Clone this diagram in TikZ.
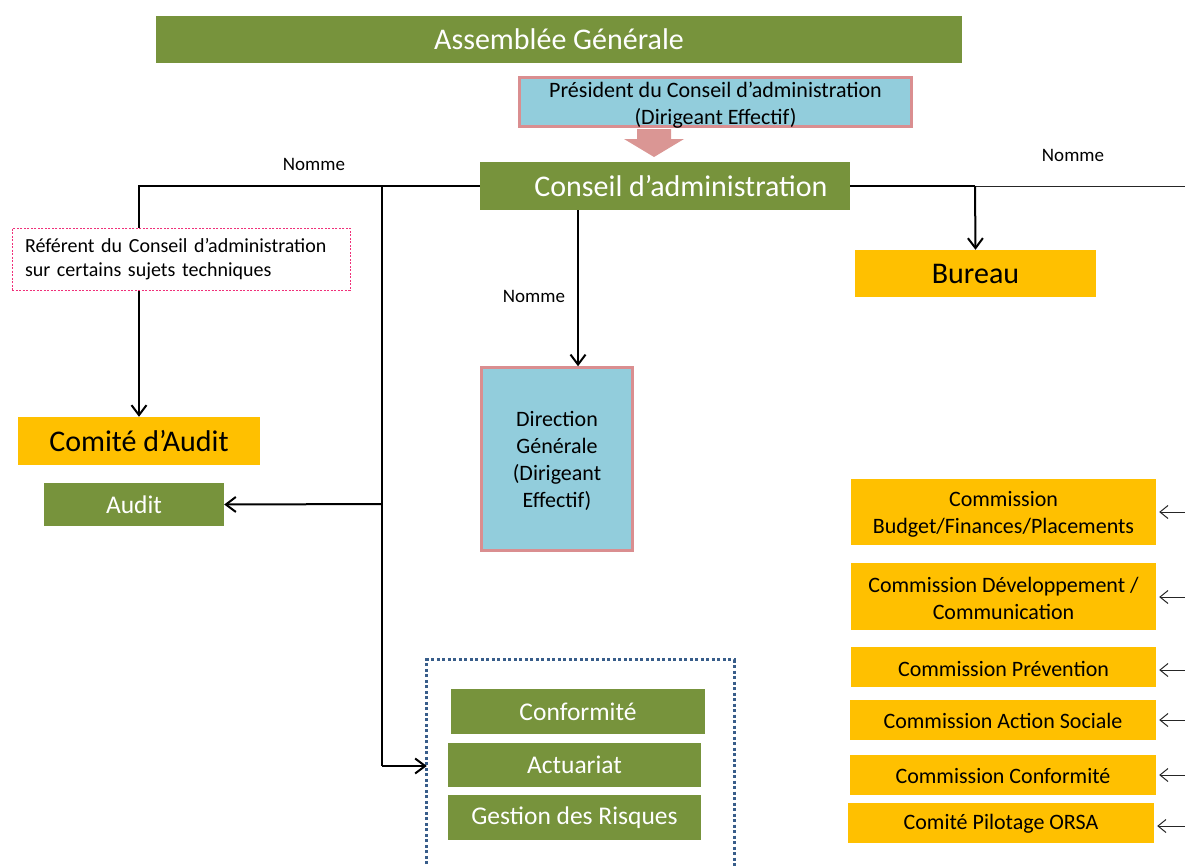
\documentclass[tikz,border=0pt]{standalone}
\usepackage{fontspec}
\setmainfont{Carlito}
\usetikzlibrary{arrows.meta}
\definecolor{vert}{HTML}{77933C}
\definecolor{bleu}{HTML}{92CDDC}
\definecolor{rose}{HTML}{DA8E90}
\definecolor{fleche}{HTML}{DA9694}
\definecolor{jaune}{HTML}{FFC000}
\definecolor{magenta2}{HTML}{F0307A}
\definecolor{navy}{HTML}{385D8A}
\begin{document}
\begin{tikzpicture}[x=1pt,y=-1pt,
  box/.style={rectangle, inner sep=0pt, align=center},
  green/.style={box, fill=vert, text=white},
  yel/.style={box, fill=jaune, text=black},
  blu/.style={box, fill=bleu, draw=rose, line width=2.5pt},
  txt/.style={box},
  big/.style={font=\fontsize{30}{36}\selectfont},
  mid/.style={font=\fontsize{25.5}{30}\selectfont},
  com/.style={font=\fontsize{22}{27}\selectfont},
  lab/.style={font=\fontsize{19}{22}\selectfont},
  conn/.style={line width=2pt},
  arr/.style={conn, -{Straight Barb[length=10pt,width=15pt,line width=2pt]}},
  thinline/.style={line width=1pt, draw=black!85},
  thinarr/.style={thinline, -{Straight Barb[length=8pt,width=13pt,line width=1pt]}},
  dotbox/.style={draw=navy, line width=3pt, dash pattern=on 3pt off 2.5pt},
  refbox/.style={draw=magenta2, line width=1pt, dash pattern=on 2pt off 1.5pt, fill=white}
]
\useasboundingbox (0,0) rectangle (1185,865);

% top boxes
\node[green, big, minimum width=806pt, minimum height=47pt] (ag) at (559,39.5) {Assemblée Générale};
\node[blu, minimum width=392pt, minimum height=49pt] (pres) at (715.5,102) {};
\node[txt, com] (presT) at ([yshift=-3pt]pres.center) {Président du Conseil d’administration\\(Dirigeant Effectif)};
\fill[fleche] (637,129) -- (671,129) -- (671,139) -- (684,139) -- (654,157) -- (624,139) -- (637,139) -- cycle;
\node[green, big, minimum width=370pt, minimum height=48pt] (ca) at (665,186) {\hspace*{32pt}Conseil d’administration};

% other boxes
\node[blu, minimum width=151pt, minimum height=183pt] (dg) at (557,459) {};
\node[txt, com] (dgT) at ([yshift=-2pt]dg.center) {Direction\\Générale\\(Dirigeant\\Effectif)};
\node[yel, big, minimum width=241pt, minimum height=47pt] (bur) at (975.5,273.5) {Bureau};
\node[yel, big, minimum width=242pt, minimum height=48pt] (cai) at (139,441) {Comité d’Audit};
\node[green, mid, minimum width=180pt, minimum height=43pt] (aud) at (134,504.5) {Audit};

% group of functions
\node[box, minimum width=307pt, minimum height=215pt] (grp) at (580.5,767.5) {};
\draw[dotbox] (grp.south west) -- (grp.north west) -- (grp.north east) -- (grp.south east);
\node[green, mid, minimum width=254pt, minimum height=45pt] (conf) at (578,711.5) {Conformité};
\node[green, mid, minimum width=253pt, minimum height=44pt] (act) at (574.5,765) {Actuariat};
\node[green, mid, minimum width=253pt, minimum height=45pt] (gdr) at (574.5,817.5) {Gestion des Risques};

% commissions
\node[yel, minimum width=305pt, minimum height=66pt] (c1) at (1003.5,512) {};
\node[txt, com] (c1T) at ([yshift=-2pt]c1.center) {Commission\\Budget/Finances/Placements};
\node[yel, minimum width=305pt, minimum height=67pt] (c2) at (1003.5,596.5) {};
\node[txt, com] (c2T) at ([yshift=-2pt]c2.center) {Commission Développement /\\Communication};
\node[yel, com, minimum width=305pt, minimum height=40pt] (c3) at (1003.5,667) {};
\node[txt, com] (c3T) at ([yshift=-2pt]c3.center) {Commission Prévention};
\node[yel, com, minimum width=306pt, minimum height=40pt] (c4) at (1003,720) {};
\node[txt, com] (c4T) at ([yshift=-1pt]c4.center) {Commission Action Sociale};
\node[yel, com, minimum width=306pt, minimum height=40pt] (c5) at (1003,775) {};
\node[txt, com] (c5T) at ([yshift=-1pt]c5.center) {Commission Conformité};
\node[yel, com, minimum width=306pt, minimum height=40pt] (c6) at (1001,823) {};
\node[txt, com] (c6T) at ([yshift=-1pt]c6.center) {Comité Pilotage ORSA};

% labels
\node[lab] (n1) at (314,164) {Nomme};
\node[lab] (n2) at (1073,155) {Nomme};
\node[lab] (n3) at (534,296) {Nomme};

% junction coordinates
\coordinate (jL) at (139,186);
\coordinate (jM) at (382,186);
\coordinate (jA) at (382,504);
\coordinate (jG) at (382,766);
\coordinate (jR) at (975,186);
\coordinate (rE) at (1185,186);
\coordinate (cd) at (578,210);
\coordinate (r1) at (1185,512);
\coordinate (r2) at (1185,597);
\coordinate (r3) at (1185,670);
\coordinate (r4) at (1185,720);
\coordinate (r5) at (1185,775);
\coordinate (r6) at (1185,826);

% connectors
\draw[arr] (ca.west) -- (jL) -- (cai.north);
\draw[conn] (jM) -- (jG);
\draw[arr] (jA) -- (aud.east);
\draw[arr] (jG) -- (grp.west |- jG);
\draw[arr] (cd) -- (cd |- dg.north);
\draw[conn] (ca.east) -- (jR);
\draw[thinline] (jR) -- (rE);
\draw[arr] (jR) -- (bur.north);
\draw[thinarr, shorten >=3pt] (r1) -- (c1.east |- r1);
\draw[thinarr, shorten >=3pt] (r2) -- (c2.east |- r2);
\draw[thinarr, shorten >=3pt] (r3) -- (c3.east |- r3);
\draw[thinarr, shorten >=3pt] (r4) -- (c4.east |- r4);
\draw[thinarr, shorten >=3pt] (r5) -- (c5.east |- r5);
\draw[thinarr, shorten >=3pt] (r6) -- (c6.east |- r6);

% referent box over the line
\node[refbox, minimum width=338pt, minimum height=62pt, text width=312pt, align=left, inner sep=0pt, font=\fontsize{20}{24}\selectfont] (ref) at (181,259) {Référent du Conseil d’administration\\sur certains sujets techniques};
\end{tikzpicture}
\end{document}
